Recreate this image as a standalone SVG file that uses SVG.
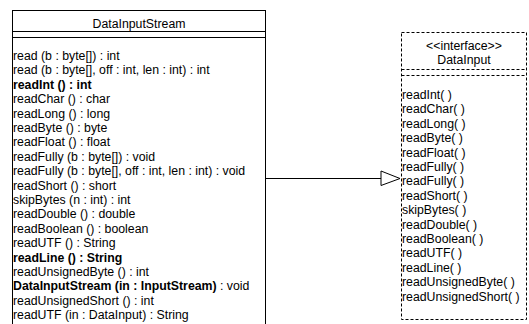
<svg xmlns="http://www.w3.org/2000/svg" width="529" height="324" viewBox="0 0 529 324">
<style>
text{font-family:"Liberation Sans",Arial,sans-serif;font-size:12.3px;fill:#000}
.c{text-anchor:middle}
.b{font-weight:bold}
.box{fill:#fff;stroke:#000;stroke-width:1}
.dash{fill:#fff;stroke:#000;stroke-width:1;stroke-dasharray:3,2}
.dl{stroke:#000;stroke-width:1;stroke-dasharray:3,2;fill:none}
.sl{stroke:#000;stroke-width:1;fill:none}
</style>
<g id="connectors">
<line class="sl" x1="266" y1="178.5" x2="381" y2="178.5"/>
<polygon points="381,171 400,178.5 381,185.5" fill="#fff" stroke="#000" stroke-width="1"/>
</g>
<g id="DataInputStream">
<rect class="box" x="12.5" y="10.5" width="253" height="340"/>
<line class="sl" x1="12.5" y1="31.5" x2="265.5" y2="31.5"/>
<line class="sl" x1="12.5" y1="37.5" x2="265.5" y2="37.5"/>
<text class="c" x="139" y="28">DataInputStream</text>
<text x="13" y="60">read (b : byte[]) : int</text>
<text x="13" y="74.4">read (b : byte[], off : int, len : int) : int</text>
<text x="13" y="88.8" class="b">readInt () : int</text>
<text x="13" y="103.2">readChar () : char</text>
<text x="13" y="117.6">readLong () : long</text>
<text x="13" y="132">readByte () : byte</text>
<text x="13" y="146.4">readFloat () : float</text>
<text x="13" y="160.8">readFully (b : byte[]) : void</text>
<text x="13" y="175.2">readFully (b : byte[], off : int, len : int) : void</text>
<text x="13" y="189.6">readShort () : short</text>
<text x="13" y="204">skipBytes (n : int) : int</text>
<text x="13" y="218.4">readDouble () : double</text>
<text x="13" y="232.8">readBoolean () : boolean</text>
<text x="13" y="247.2">readUTF () : String</text>
<text x="13" y="261.6" class="b">readLine () : String</text>
<text x="13" y="276">readUnsignedByte () : int</text>
<text x="13" y="290.4"><tspan class="b">DataInputStream (in : InputStream)</tspan> : void</text>
<text x="13" y="304.8">readUnsignedShort () : int</text>
<text x="13" y="319.2">readUTF (in : DataInput) : String</text>
</g>
<g id="DataInput">
<rect class="dash" x="401.5" y="32.5" width="125" height="287"/>
<line class="dl" x1="401.5" y1="69.5" x2="526.5" y2="69.5"/>
<line class="dl" x1="401.5" y1="75.5" x2="526.5" y2="75.5"/>
<text class="c" x="464" y="50">&lt;&lt;interface&gt;&gt;</text>
<text class="c" x="464" y="64">DataInput</text>
<text x="402" y="99">readInt( )</text>
<text x="402" y="113.4">readChar( )</text>
<text x="402" y="127.8">readLong( )</text>
<text x="402" y="142.2">readByte( )</text>
<text x="402" y="156.6">readFloat( )</text>
<text x="402" y="171">readFully( )</text>
<text x="402" y="185.4">readFully( )</text>
<text x="402" y="199.8">readShort( )</text>
<text x="402" y="214.2">skipBytes( )</text>
<text x="402" y="228.6">readDouble( )</text>
<text x="402" y="243">readBoolean( )</text>
<text x="402" y="257.4">readUTF( )</text>
<text x="402" y="271.8">readLine( )</text>
<text x="402" y="286.2">readUnsignedByte( )</text>
<text x="402" y="300.6">readUnsignedShort( )</text>
</g>
</svg>
